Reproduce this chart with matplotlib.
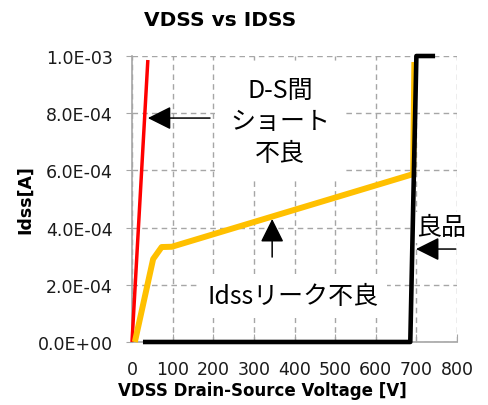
import numpy as np
import matplotlib
matplotlib.use('Agg')
import matplotlib.pyplot as plt
from matplotlib.ticker import FuncFormatter

# measured VDSS [V] / IDSS [A] curves
short_v = [0, 39]
short_i = [0.0, 9.86e-4]

leak_v = [7, 52, 73, 98, 692, 695]
leak_i = [0.0, 2.90e-4, 3.32e-4, 3.33e-4, 5.87e-4, 9.79e-4]

good_v = [27, 685, 700, 746]
good_i = [0.0, 0.0, 1.0e-3, 1.0e-3]

x_ticks = np.arange(0, 801, 100)
y_ticks = np.arange(0, 1.0e-3 + 1e-9, 2.0e-4)

jp = ['Noto Sans CJK JP', 'DejaVu Sans']
grid_col = '#a6a6a6'

fig = plt.figure(figsize=(4.88, 4.06), dpi=100)
ax = fig.add_axes([0.2705, 0.1552, 0.6660, 0.7044])

ax.plot(short_v, short_i, color='#ff0000', lw=2.5, clip_on=False, zorder=4, solid_capstyle='butt')
ax.plot(leak_v, leak_i, color='#ffc000', lw=4.3, clip_on=False, zorder=5, solid_capstyle='butt')
ax.plot(good_v, good_i, color='black', lw=3.3, clip_on=False, zorder=6, solid_capstyle='butt')

ax.set_xlim(0, 800)
ax.set_ylim(0, 1.0e-3)
ax.set_xticks(x_ticks)
ax.set_yticks(y_ticks)
ax.yaxis.set_major_formatter(FuncFormatter(lambda v, p: '{:.1E}'.format(v)))

ax.grid(True, color=grid_col, lw=1.0, linestyle=(0, (4, 3)), zorder=0)
ax.set_axisbelow(True)
for s in ['top', 'right']:
    ax.spines[s].set_visible(False)
for s in ['left', 'bottom']:
    ax.spines[s].set_color(grid_col)
    ax.spines[s].set_linewidth(1.2)

ax.tick_params(axis='x', direction='in', length=6, color=grid_col, labelsize=12.5, pad=13)
ax.tick_params(axis='y', direction='out', length=4, color=grid_col, labelsize=12.5, pad=10)
for lab in ax.get_xticklabels() + ax.get_yticklabels():
    lab.set_color('#1a1a1a')

# labels for each curve, on white boxes over the grid
ax.text(364, 7.71e-4, 'D-S間\nショート\n不良', family=jp, fontsize=18,
        ha='center', va='center', multialignment='center', linespacing=1.3,
        bbox=dict(boxstyle='square,pad=0.6', fc='white', ec='none'), zorder=3)
ax.text(396, 1.61e-4, 'Idssリーク不良', family=jp, fontsize=18,
        ha='center', va='center', bbox=dict(boxstyle='square,pad=0.35', fc='white', ec='none'), zorder=3)
ax.text(761, 4.02e-4, '良品', family=jp, fontsize=18,
        ha='center', va='center', bbox=dict(boxstyle='square,pad=0.1', fc='white', ec='none'), zorder=3)

arrow = dict(arrowstyle='-|>,head_length=0.9,head_width=0.45', color='black', lw=1.1, mutation_scale=16,
             shrinkA=0, shrinkB=0)
ax.annotate('', xy=(39, 7.83e-4), xytext=(192, 7.83e-4), arrowprops=arrow, zorder=7)
ax.annotate('', xy=(345, 4.30e-4), xytext=(345, 2.97e-4), arrowprops=arrow, zorder=7)
ax.annotate('', xy=(699, 3.25e-4), xytext=(797, 3.25e-4), arrowprops=arrow, zorder=7, annotation_clip=False)

fig.text(220 / 488, 1 - 20 / 406, 'VDSS vs IDSS', fontsize=14.5, fontweight='bold',
         ha='center', va='center')
fig.text(262 / 488, 1 - 391 / 406, 'VDSS Drain-Source Voltage [V]', fontsize=12,
         fontweight='bold', ha='center', va='center')
fig.text(25 / 488, 1 - 200 / 406, 'Idss[A]', fontsize=12.5, fontweight='bold',
         ha='center', va='center', rotation=90)

fig.savefig('out.png', dpi=100)
